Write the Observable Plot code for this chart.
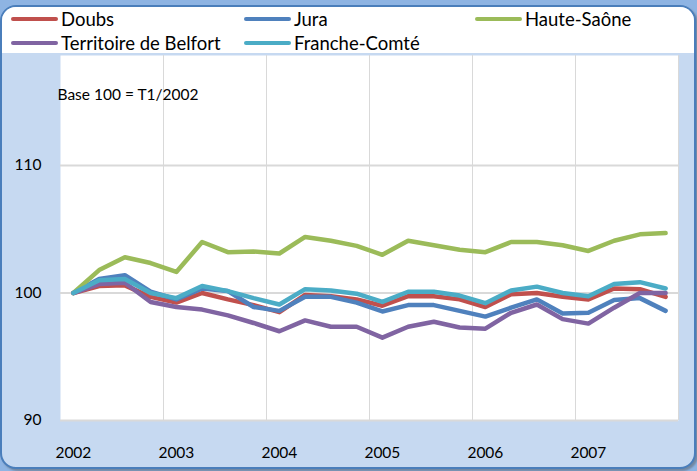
<!DOCTYPE html>
<html>
<head>
<meta charset="utf-8">
<script src="https://cdn.jsdelivr.net/npm/d3@7"></script>
<script src="https://cdn.jsdelivr.net/npm/@observablehq/plot@0.6"></script>
<style>
  html, body { margin: 0; padding: 0; background: #ffffff; }
  #wrap { position: relative; width: 697px; height: 471px; background: #8eb4e3; overflow: hidden; font-family: Lato, "Noto Sans", sans-serif; }
  #box { position: absolute; left: 0; top: 5px; width: 692px; height: 460px; border: 2px solid #4a7ebb; border-radius: 16px; background: #c6d9f1; overflow: hidden; box-shadow: 2px 2px 2px rgba(80,80,80,0.45); }
  #legend { position: absolute; left: 0; top: 0; width: 692px; height: 46px; background: #ffffff; }
  .item { position: absolute; height: 22px; display: flex; align-items: center; font-size: 18.5px; color: #000; white-space: nowrap; }
  .sw { display: inline-block; width: 47px; height: 4px; border-radius: 2px; margin-right: 3px; }
  #chart { position: absolute; left: 0; top: 55px; }
</style>
</head>
<body>
<div id="wrap">
  <div id="box"><div id="legend"></div></div>
  <div id="chart"></div>
</div>
<script>
const periods = ["2002T1","2002T2","2002T3","2002T4","2003T1","2003T2","2003T3","2003T4",
  "2004T1","2004T2","2004T3","2004T4","2005T1","2005T2","2005T3","2005T4",
  "2006T1","2006T2","2006T3","2006T4","2007T1","2007T2","2007T3","2007T4"];
const yearLabels = ["2002","2003","2004","2005","2006","2007"];
const seriesNames = ["Doubs","Jura","Haute-Saône","Territoire de Belfort","Franche-Comté"];
const seriesColors = ["#c0504d","#4f81bd","#9bbb59","#8064a2","#4bacc6"];
const yTicks = [90, 100, 110];
const baseNote = "Base 100 = T1/2002";

const doubs    = [100,100.55,100.6,99.7,99.25,100.0,99.5,99.05,98.5,99.85,99.75,99.5,99.0,99.75,99.75,99.5,98.9,99.9,100.0,99.7,99.5,100.35,100.3,99.7];
const jura     = [100,101.1,101.4,100.1,99.5,100.35,100.15,98.9,98.6,99.7,99.7,99.25,98.55,99.05,99.05,98.6,98.15,98.85,99.5,98.4,98.45,99.45,99.6,98.6];
const hauteSaone = [100,101.8,102.8,102.35,101.65,104.0,103.2,103.25,103.1,104.4,104.1,103.7,103.0,104.1,103.75,103.4,103.2,104.0,104.0,103.75,103.3,104.1,104.6,104.7];
const belfort  = [100,100.7,100.8,99.3,98.9,98.7,98.25,97.65,97.0,97.85,97.35,97.35,96.5,97.35,97.75,97.3,97.2,98.45,99.1,97.95,97.6,98.85,100.0,100.0];
const franche  = [100,101.0,101.1,100.0,99.6,100.55,100.15,99.6,99.1,100.3,100.2,99.95,99.3,100.1,100.1,99.8,99.2,100.2,100.5,100.0,99.75,100.7,100.85,100.35];

const seriesValues = [doubs, jura, hauteSaone, belfort, franche];
const rows = [];
seriesNames.forEach((name, s) => {
  seriesValues[s].forEach((v, i) => rows.push({series: name, i, period: periods[i], value: v}));
});

// legend
const legendPos = [
  {left: 9, top: 1}, {left: 242, top: 1}, {left: 473, top: 1},
  {left: 9, top: 25}, {left: 242, top: 25}
];
const legend = document.getElementById("legend");
seriesNames.forEach((name, s) => {
  const it = document.createElement("div");
  it.className = "item";
  it.style.left = legendPos[s].left + "px";
  it.style.top = legendPos[s].top + "px";
  const sw = document.createElement("span");
  sw.className = "sw";
  sw.style.background = seriesColors[s];
  it.appendChild(sw);
  it.appendChild(document.createTextNode(name));
  legend.appendChild(it);
});

const yearTickIdx = yearLabels.map((y) => periods.indexOf(y + "T1"));
const gridIdx = yearTickIdx.slice(1).map((i) => i - 0.5).concat([periods.length - 0.5]);

const plot = Plot.plot({
  width: 697,
  height: 416,
  marginLeft: 60,
  marginRight: 19,
  marginTop: 0,
  marginBottom: 51,
  style: {background: "transparent", fontFamily: "Lato, 'Noto Sans', sans-serif", color: "#000"},
  x: {type: "linear", domain: [-0.5, periods.length - 0.5]},
  y: {domain: [90, 118.63]},
  color: {domain: seriesNames, range: seriesColors},
  marks: [
    Plot.frame({fill: "white", stroke: null}),
    Plot.ruleX(gridIdx, {stroke: "#d9d9d9", strokeWidth: 1}),
    Plot.ruleY(yTicks, {stroke: "#d9d9d9", strokeWidth: 2}),
    Plot.line(rows, {x: "i", y: "value", z: "series", stroke: "series", strokeWidth: 4.5, strokeLinejoin: "round", strokeLinecap: "round"}),
    Plot.text([baseNote], {frameAnchor: "top-left", dx: -3, dy: 40, textAnchor: "start", lineAnchor: "middle", fontSize: 15.5, fill: "#000"}),
    Plot.axisY({ticks: yTicks, tickSize: 0, tickPadding: 19, fontSize: 15.5, label: null}),
    Plot.axisX({ticks: yearTickIdx, tickFormat: (d) => yearLabels[yearTickIdx.indexOf(d)], tickSize: 0, tickPadding: 26, fontSize: 15.5, label: null})
  ]
});
document.getElementById("chart").appendChild(plot);
</script>
</body>
</html>
